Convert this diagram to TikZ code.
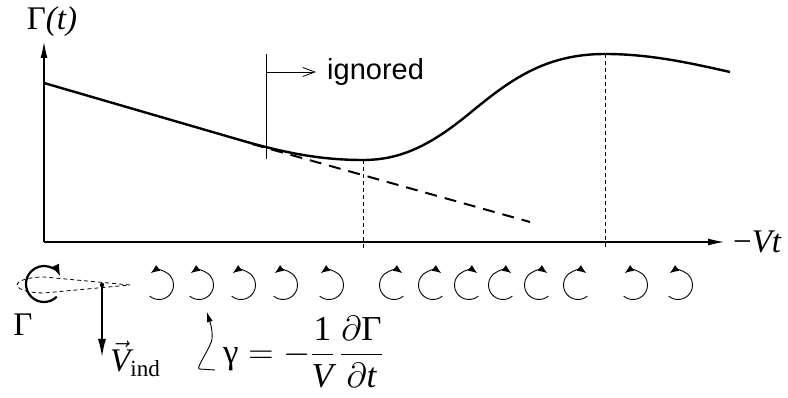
\RequirePackage{fix-cm}
\documentclass[tikz,border=0pt]{standalone}
\usepackage{amsmath}
\usepackage[no-math]{fontspec}
\setmainfont{Liberation Serif}
\newfontfamily\labelfont{Liberation Sans}
\usetikzlibrary{arrows.meta}

\tikzset{
  axis/.style={line width=1.1pt,-{Latex[length=16pt,width=7pt]}},
  circcurve/.style={line width=2.4pt},
  guide/.style={line width=0.8pt,dash pattern=on 4pt off 3pt},
  tangent/.style={line width=2pt,dash pattern=on 12pt off 8pt},
  vortex/.style={line width=0.9pt,-{Latex[length=9pt,width=7pt]}},
  bigtext/.style={font=\fontsize{33}{36}\selectfont},
}

\begin{document}
\begin{tikzpicture}[x=1pt,y=1pt]
  \useasboundingbox (0,0) rectangle (788,398);

  % Eksenler
  \coordinate (O) at (44,156);
  \coordinate (ytop) at (44,356);
  \coordinate (xend) at (724,156);
  \draw[axis] (O) -- (ytop);
  \draw[axis] (O) -- (xend);
  \node[bigtext] (gt) at (52,376) {Γ\textit{(t)}};
  \node[bigtext,anchor=west,inner sep=0pt] (vt) at (733,156) {−\textit{Vt}};

  % Circulation curve and tangent
  \draw[circcurve] (O |- 0,315) -- (240,258)
    .. controls (290,243.5) and (325,238) .. (363,238)
    .. controls (400,238) and (430,252) .. (470,285)
    .. controls (510,318) and (545,344) .. (605,344)
    .. controls (650,344) and (690,335) .. (730,326);
  \coordinate (tanA) at (252,254);
  \coordinate (tanB) at (530,176);
  \draw[tangent] (tanA) -- (tanB);

  % min / max guides
  \coordinate (cmin) at (363,238);
  \coordinate (cmax) at (605,344);
  \draw[guide] (cmin) -- (cmin |- 0,148);
  \draw[guide] (cmax) -- (cmax |- 0,148);

  % ignored
  \coordinate (igtop) at (266,344);
  \coordinate (igbot) at (266,239);
  \draw[line width=0.8pt] (igtop) -- (igbot);
  \coordinate (igarr) at (266,326);
  \node[font=\labelfont\fontsize{29}{32}\selectfont,anchor=west,inner xsep=11pt,inner ysep=0pt]
    (ign) at (316,326) {ignored};
  \draw[line width=0.8pt,-{Straight Barb[length=12pt,width=9pt]}] (igarr) -- (ign.west);

  % Trailing vortices
  \foreach \x in {159,199,241,283,329,633,678}
    \draw[vortex] (\x,113) ++(-130:14.5) arc[start angle=-130,end angle=125,radius=14.5];
  \foreach \x in {394,433,469,503,539,578}
    \draw[vortex] (\x,113) ++(-50:14.5) arc[start angle=-50,end angle=-305,radius=14.5];

  % Bound vortex
  \coordinate (bound) at (44,114);
  \draw[line width=2.2pt,-{Latex[length=12pt,width=9pt]}]
    (bound) ++(-45:18) arc[start angle=-45,end angle=-335,radius=18];
  \draw[line width=0.8pt,dash pattern=on 4pt off 3pt]
    (130,113) -- (44,121) arc[start angle=90,end angle=270,x radius=27,y radius=8] -- cycle;
  \node[bigtext] (gam0) at (23,73) {Γ};

  % Induced velocity
  \coordinate (dot) at (102,113);
  \coordinate (vend) at (102,41);
  \fill (dot) circle (2.2pt);
  \draw[line width=1.6pt,-{Latex[length=18pt,width=8pt]}] (dot) -- (vend);
  \node[bigtext,anchor=base west,inner sep=0pt] (vind) at (110,26)
    {$\vec{\text{\itshape V}}_{\text{ind}}$};

  % Shed vorticity
  \node[font=\fontsize{35}{40}\selectfont,anchor=west,inner sep=0pt] (gam) at (223,46)
    {$\text{γ} = -\dfrac{\text{1}}{\text{\itshape V}}\,\dfrac{\partial\text{Γ}}{\partial\text{\itshape t}}$};
  \coordinate (sq) at (215,28);
  \coordinate (sqtip) at (207,86);
  \draw[line width=0.9pt,-{Latex[length=10pt,width=6pt]}] (sq) -- (199,29)
    .. controls (196,30.5) and (211,51) .. (212,59)
    .. controls (213,69) and (209,79) .. (sqtip);
\end{tikzpicture}
\end{document}
